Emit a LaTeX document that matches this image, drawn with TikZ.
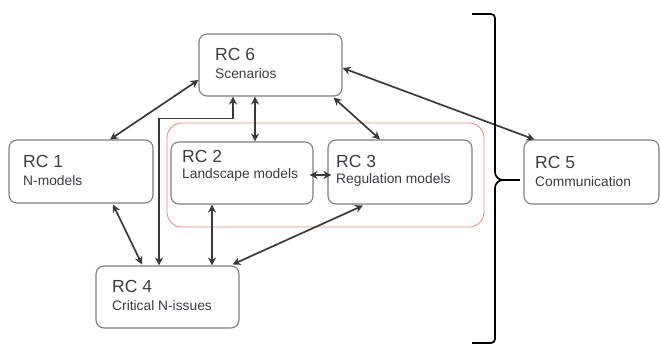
\documentclass[tikz,border=0pt]{standalone}
\usepackage{fontspec}
\setmainfont{Liberation Sans}
\usetikzlibrary{arrows.meta,calc}
\definecolor{boxline}{HTML}{7F7F7F}
\definecolor{linkcol}{HTML}{3A3A3A}
\definecolor{txtcol}{HTML}{3C3C44}
\definecolor{groupred}{HTML}{EE8080}
\tikzset{
  rcbox/.style={draw=boxline, line width=1.1pt, rounded corners=8pt, fill=white,
    inner sep=0pt, minimum width=#1},
  rcbox/.default=143pt,
  rctitle/.style={anchor=base west, inner sep=0pt, text=txtcol,
    font=\fontsize{17.5}{20}\selectfont},
  rcsub/.style={anchor=base west, inner sep=0pt, text=txtcol,
    font=\fontsize{13.8}{16}\selectfont},
  link/.style={draw=linkcol, line width=1.7pt,
    {Stealth[length=8pt,width=8pt]}-{Stealth[length=8pt,width=8pt]}},
  bracketline/.style={draw=black, line width=1.7pt, line join=round}
}
\begin{document}
\begin{tikzpicture}[x=1pt, y=-1pt]
\useasboundingbox (0,0) rectangle (661,345);

% group frame around RC 2 and RC 3
\node (grp) [draw=groupred, line width=0.8pt, rounded corners=15pt,
  minimum width=317pt, minimum height=104pt, inner sep=0pt] at (325.5,175) {};

% boxes
\node (rc6) [rcbox=143pt, minimum height=62pt] at (270.5,65) {};
\node (rc1) [rcbox=144pt, minimum height=63pt] at (81,171.5) {};
\node (rc2) [rcbox=142pt, minimum height=62pt] at (242,173) {};
\node (rc3) [rcbox=144pt, minimum height=64pt] at (400,172) {};
\node (rc4) [rcbox=143pt, minimum height=62pt] at (167.5,297) {};
\node (rc5) [rcbox=135pt, minimum height=64pt] at (591.5,172) {};

% labels
\node (rc6a) [rctitle] at (215,61) {RC 6};
\node (rc6b) [rcsub] at (215,78) {Scenarios};
\node (rc1a) [rctitle] at (23,167) {RC 1};
\node (rc1b) [rcsub] at (23,185) {N-models};
\node (rc2a) [rctitle] at (182,162) {RC 2};
\node (rc2b) [rcsub] at (182,178) {Landscape models};
\node (rc3a) [rctitle] at (336,167) {RC 3};
\node (rc3b) [rcsub] at (336,183) {Regulation models};
\node (rc4a) [rctitle] at (112,292) {RC 4};
\node (rc4b) [rcsub] at (112,310) {Critical N-issues};
\node (rc5a) [rctitle] at (535,168) {RC 5};
\node (rc5b) [rcsub] at (535,186) {Communication};

% connectors
\draw[link] ($(rc6.west)+(0,15)$) -- ($(rc1.north)+(29,0)$);
\coordinate (v62) at ($(rc2.north)+(13,0)$);
\draw[link] (v62 |- rc6.south) -- (v62);
\draw[link] ($(rc6.south east)+(-9,1)$) -- ($(rc3.north)+(-20,0)$);
\draw[link] ($(rc6.east)+(0,3)$) -- ($(rc5.north west)+(11,0)$);
\coordinate (h23) at ($(rc2.east)+(-4,2)$);
\coordinate (h32) at ($(rc3.west)+(4,0)$);
\draw[link] (h23) -- (h32 |- h23);
\draw[link] ($(rc6.south)+(-37.5,0)$) -- ++(0,22) -| ($(rc4.north)+(-8.5,0)$);
\draw[link] ($(rc1.south)+(32,1)$) -- ($(rc4.north)+(-25.5,-1)$);
\coordinate (v24) at ($(rc4.north)+(44.5,0)$);
\draw[link] (v24 |- rc2.south) -- (v24);
\draw[link] ($(rc3.south)+(-37,1)$) -- ($(rc4.north east)+(-7,-1)$);

% right-hand bracket
\coordinate (bt) at (472,14);
\coordinate (bb) at (472,343);
\coordinate (btip) at (520,180);
\draw[bracketline] (bt) -- (491,14) to[out=0,in=90] (495,18) -- (495,172)
  to[out=-90,in=180] (503,180) to[out=180,in=90] (495,188) -- (495,339)
  to[out=-90,in=0] (491,343) -- (bb);
\draw[bracketline, line width=1.2pt] (503,180) -- (btip);
\end{tikzpicture}
\end{document}
